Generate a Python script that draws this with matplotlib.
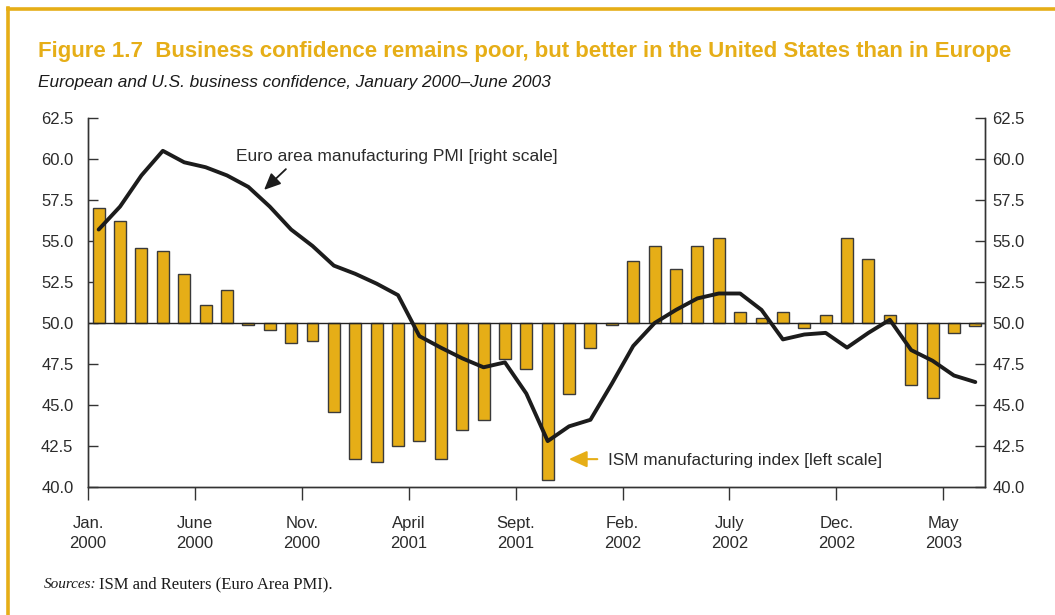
import numpy as np
import matplotlib.pyplot as plt
from matplotlib.lines import Line2D

# ------------------------------------------------------------
# Data: monthly values, Jan 2000 - June 2003
# ------------------------------------------------------------
ism_index = [
    57.0, 56.2, 54.6, 54.4, 53.0, 51.1, 52.0, 49.9, 49.6, 48.8, 48.9, 44.6,  # 2000
    41.7, 41.5, 42.5, 42.8, 41.7, 43.5, 44.1, 47.8, 47.2, 40.4, 45.7, 48.5,  # 2001
    49.9, 53.8, 54.7, 53.3, 54.7, 55.2, 50.7, 50.3, 50.7, 49.7, 50.5, 55.2,  # 2002
    53.9, 50.5, 46.2, 45.4, 49.4, 49.8,                                      # 2003
]
euro_pmi = [
    55.7, 57.1, 59.0, 60.5, 59.8, 59.5, 59.0, 58.3, 57.1, 55.7, 54.7, 53.5,
    53.0, 52.4, 51.7, 49.2, 48.5, 47.85, 47.3, 47.6, 45.7, 42.8, 43.7, 44.1,
    46.3, 48.6, 50.0, 50.8, 51.5, 51.8, 51.8, 50.8, 49.0, 49.3, 49.4, 48.5,
    49.4, 50.2, 48.35, 47.7, 46.8, 46.4,
]
tick_months = [0, 5, 10, 15, 20, 25, 30, 35, 40]
tick_labels = ["Jan.\n2000", "June\n2000", "Nov.\n2000", "April\n2001", "Sept.\n2001",
               "Feb.\n2002", "July\n2002", "Dec.\n2002", "May\n2003"]
y_ticks = [40.0, 42.5, 45.0, 47.5, 50.0, 52.5, 55.0, 57.5, 60.0, 62.5]

gold = "#E6AE17"
text_col = "#2b2b2b"
sans = ["Liberation Sans", "DejaVu Sans"]
serif = ["Liberation Serif", "DejaVu Serif"]

fig = plt.figure(figsize=(10.55, 6.15), dpi=100)

# frame lines at top and left of the page
fig.add_artist(Line2D([0.0076, 1.0], [0.985, 0.985], color=gold, lw=2.6, transform=fig.transFigure))
fig.add_artist(Line2D([0.0080, 0.0080], [0.0, 0.987], color=gold, lw=2.6, transform=fig.transFigure))

ax = fig.add_axes([0.0834, 0.2081, 0.8502, 0.6000])
months = np.arange(len(ism_index))

# bars drawn from the 50 line
ism = np.array(ism_index)
ax.bar(months, ism - 50, bottom=50, width=0.56, color=gold,
       edgecolor="#3a3a3a", linewidth=1.0, zorder=2)
ax.axhline(50, color="#222222", lw=1.0, zorder=3)

# Euro PMI line (right scale, same range)
ax2 = ax.twinx()
ax2.plot(months, euro_pmi, color="#1c1c1c", lw=2.8, solid_joinstyle="round",
         solid_capstyle="round", zorder=4)

for a, pad in ((ax, 10.5), (ax2, 5.5)):
    a.set_ylim(40, 62.5)
    a.set_xlim(-0.5, 41.45)
    a.set_yticks(y_ticks)
    a.set_yticklabels([f"{v:.1f}" for v in y_ticks], fontsize=12, color=text_col, family=sans)
    a.spines["top"].set_visible(False)
    for s in a.spines.values():
        s.set_color("#333333")
        s.set_linewidth(1.0)
    a.tick_params(axis="y", direction="in", length=7, width=1, color="#333333", pad=pad)

ax.set_xticks([m - 0.5 for m in tick_months])
ax.set_xticklabels(tick_labels, fontsize=12, color=text_col, family=sans, linespacing=1.4)
ax.tick_params(axis="x", direction="out", length=9, width=1, color="#333333", pad=12)
ax.set_zorder(ax2.get_zorder() - 1)
ax.patch.set_visible(False)

# annotations
ax2.annotate("", xy=(7.64, 58.0), xytext=(8.85, 59.5),
             arrowprops=dict(arrowstyle="-|>,head_length=1.0,head_width=0.45",
                             color="#1c1c1c", lw=1.3))
ax2.text(6.42, 60.18, "Euro area manufacturing PMI [right scale]", fontsize=12.5,
         color=text_col, family=sans, va="center", ha="left")
ax2.annotate("", xy=(21.86, 41.7), xytext=(23.45, 41.7),
             arrowprops=dict(arrowstyle="-|>,head_length=1.1,head_width=0.5",
                             color=gold, lw=1.5))
ax2.text(23.82, 41.6, "ISM manufacturing index [left scale]", fontsize=12.4,
         color=text_col, family=sans, va="center", ha="left")

# titles
fig.text(0.036, 0.907, "Figure 1.7  Business confidence remains poor, but better in the United States than in Europe",
         fontsize=16, fontweight="bold", color=gold, family=sans, ha="left", va="baseline")
fig.text(0.036, 0.859, "European and U.S. business confidence, January 2000\u2013June 2003",
         fontsize=12.4, style="italic", color="#1a1a1a", family=sans, ha="left", va="baseline")

# source note
fig.text(0.042, 0.044, "Sources:", fontsize=11, style="italic", color="#1a1a1a",
         family=serif, ha="left", va="baseline")
fig.text(0.094, 0.044, "ISM and Reuters (Euro Area PMI).", fontsize=12, color="#1a1a1a",
         family=serif, ha="left", va="baseline")

fig.savefig("out.png", dpi=100)
